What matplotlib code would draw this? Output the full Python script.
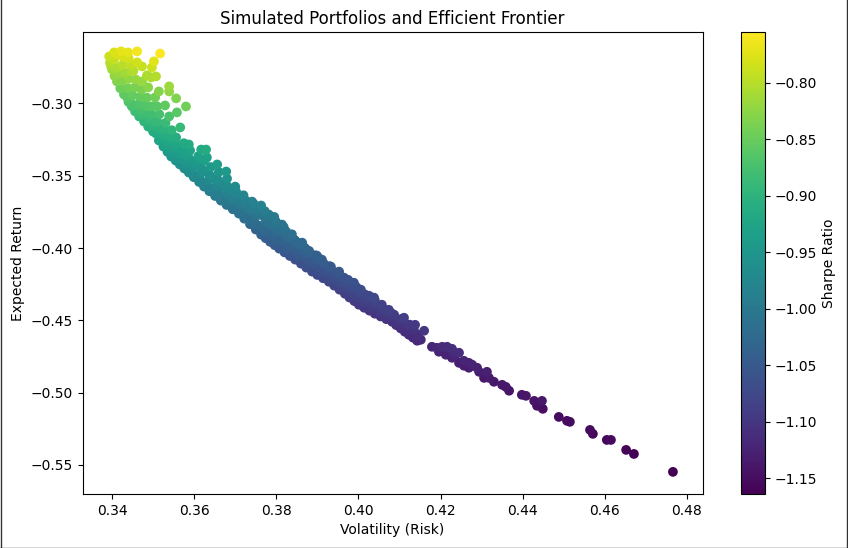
import matplotlib
matplotlib.use("Agg")
import matplotlib.pyplot as plt
from matplotlib.lines import Line2D
import numpy as np

frontier_vol = [.3393,.3395,.3400,.3406,.3412,.3420,.3429,.3440,.3448,.3456,.3466,.3478,.3488,.3500,.3514,.3525,.3535,.3544,.3555,.3565,.3576,.3587,.3599,.3612,.3624,.3637,.3651,.3665,.3679,.3694,.3709,.3722,.3736,.3750,.3763,.3774,.3785,.3796,.3807,.3820,.3833,.3846,.3860,.3873,.3887,.3900,.3914,.3928,.3941,.3954,.3967,.3978,.3990,.4001,.4014,.4027,.4040,.4054,.4068,.4082,.4092,.4103,.4113,.4123,.4133,.4143]
frontier_ret = [-.2675,-.2720,-.2765,-.2810,-.2848,-.2895,-.2938,-.2990,-.3020,-.3055,-.3090,-.3125,-.3160,-.3195,-.3256,-.3298,-.3335,-.3367,-.3395,-.3422,-.3450,-.3478,-.3510,-.3543,-.3575,-.3607,-.3640,-.3672,-.3702,-.3732,-.3762,-.3797,-.3835,-.3872,-.3907,-.3932,-.3957,-.3980,-.4004,-.4030,-.4055,-.4080,-.4108,-.4135,-.4163,-.4186,-.4209,-.4233,-.4260,-.4288,-.4316,-.4342,-.4367,-.4392,-.4413,-.4433,-.4454,-.4473,-.4492,-.4510,-.4533,-.4556,-.4579,-.4600,-.4620,-.4641]

middle_vol = [.3525,.3538,.3551,.3563,.3576,.3588,.3600,.3612,.3624,.3636,.3648,.3662,.3676,.3692,.3709,.3722,.3735,.3747,.3758,.3770,.3782,.3795,.3807,.3819,.3831,.3843,.3855,.3867,.3880,.3892,.3904,.3916,.3928,.3940,.3953,.3965,.3978,.3990,.4002,.4014,.4027,.4039,.4051,.4063,.4075,.4088,.4100,.4112,.4125,.4136,.4148]
middle_ret = [-.3275,-.3310,-.3346,-.3385,-.3420,-.3458,-.3492,-.3522,-.3552,-.3580,-.3609,-.3645,-.3680,-.3715,-.3748,-.3775,-.3800,-.3822,-.3845,-.3870,-.3895,-.3918,-.3942,-.3965,-.3990,-.4014,-.4039,-.4063,-.4088,-.4112,-.4136,-.4160,-.4186,-.4212,-.4240,-.4268,-.4295,-.4322,-.4350,-.4372,-.4395,-.4418,-.4440,-.4462,-.4485,-.4508,-.4530,-.4555,-.4580,-.4605,-.4634]

upper_vol = [.3517,.3461,.3439,.3422,.3405,.3502,.3497,.3473,.3461,.3446,.3507,.3495,.3485,.3473,.3539,.3539,.3514,.3488,.3556,.3505,.3580,.3558,.3529,.3510,.3488,.3539,.3566,.3556,.3534,.3587,.3617,.3629,.3631,.3612,.3656,.3678,.3702,.3741,.3763,.3799,.3814,.3848,.3880,.3911,.3933,.3965,.3989,.4006,.4038,.4057,.4087,.4111,.4138,.4160,.4152,.4145,.3843,.3863,.3824,.3794,.3899,.3953,.4026,.4074]
upper_ret = [-.2655,-.2640,-.2647,-.2640,-.2647,-.2709,-.2751,-.2744,-.2716,-.2730,-.2813,-.2820,-.2806,-.2848,-.2882,-.2917,-.2917,-.2889,-.2965,-.2958,-.3021,-.3062,-.3014,-.3021,-.3021,-.3090,-.3166,-.3235,-.3215,-.3284,-.3319,-.3319,-.3374,-.3388,-.3422,-.3471,-.3609,-.3679,-.3706,-.3817,-.3838,-.3956,-.4032,-.4080,-.4129,-.4205,-.4240,-.4288,-.4343,-.4392,-.4461,-.4482,-.4531,-.4572,-.4634,-.4600,-.3942,-.3963,-.3886,-.3845,-.4053,-.4163,-.4330,-.4427]

inner_vol = [.3405,.3415,.3428,.3440,.3398,.3412,.3425,.3445,.3415,.3432,.3452,.3425,.3440,.3458,.3438,.3455,.3472,.3450,.3468,.3485,.3465,.3480,.3498,.3478,.3495,.3515,.3492,.3510,.3530,.3505,.3525,.3545,.3520,.3540,.3535,.3555,.3575,.3550,.3570,.3590,.3565,.3585,.3610,.3580,.3602,.3625,.3595,.3618,.3640,.3615,.3638,.3660,.3635,.3658,.3680,.3655,.3680,.3700,.3680,.3700,.3720,.3705,.3725,.3745,.3730,.3750,.3772,.3750,.3772,.3795,.3775,.3795,.3818,.3800,.3820,.3838,.3825,.3845,.3862,.3850,.3870,.3875,.3895,.3915,.3900,.3925,.3940,.3948,.3965,.3985,.3975,.3990,.4005,.4022,.4020,.4040,.4055,.4070,.4085,.4100,.4120,.4135,.3690,.3675,.3721,.3734,.3782,.3825,.3860,.3895,.3930,.3960,.4000]
inner_ret = [-.2695,-.2665,-.2680,-.2685,-.2745,-.2755,-.2735,-.2775,-.2795,-.2790,-.2775,-.2845,-.2830,-.2835,-.2895,-.2890,-.2905,-.2945,-.2955,-.2960,-.3005,-.3015,-.3020,-.3060,-.3075,-.3075,-.3115,-.3125,-.3135,-.3160,-.3175,-.3185,-.3210,-.3230,-.3265,-.3280,-.3275,-.3305,-.3320,-.3325,-.3355,-.3365,-.3365,-.3400,-.3410,-.3395,-.3445,-.3450,-.3440,-.3490,-.3495,-.3475,-.3530,-.3530,-.3520,-.3570,-.3570,-.3575,-.3625,-.3625,-.3635,-.3670,-.3670,-.3695,-.3720,-.3735,-.3745,-.3775,-.3790,-.3785,-.3825,-.3840,-.3855,-.3880,-.3895,-.3905,-.3930,-.3945,-.3975,-.3980,-.4000,-.4035,-.4050,-.4105,-.4085,-.4155,-.4165,-.4180,-.4235,-.4265,-.4255,-.4295,-.4315,-.4350,-.4375,-.4385,-.4415,-.4445,-.4475,-.4505,-.4530,-.4565,-.3596,-.3582,-.3699,-.3720,-.3769,-.3965,-.4015,-.4075,-.4150,-.4210,-.4300]

dense_vol = [.3470,.3487,.3500,.3515,.3528,.3545,.3560,.3575,.3592,.3608,.3622,.3645,.3665,.3690,.3712,.3735,.3760,.3785,.3810,.3835,.3855,.3880,.3905,.3930,.3950,.3975,.3995,.4015,.4040,.4060,.4080,.4105,.4125,.3437,.3452,.3472,.3495,.3508,.3520,.3530,.3550,.3570,.3590,.3605,.3630,.3658,.3685,.3715,.3740,.3770,.3800,.3825,.3850,.3880,.3905,.3935,.3960,.3985,.4010,.4035,.4060]
dense_ret = [-.3040,-.3090,-.3130,-.3175,-.3225,-.3255,-.3310,-.3350,-.3395,-.3430,-.3470,-.3520,-.3560,-.3655,-.3700,-.3740,-.3770,-.3830,-.3885,-.3930,-.3965,-.4020,-.4075,-.4125,-.4170,-.4220,-.4270,-.4320,-.4360,-.4420,-.4450,-.4490,-.4530,-.2960,-.3010,-.3075,-.3150,-.3210,-.3245,-.3290,-.3350,-.3410,-.3470,-.3510,-.3560,-.3620,-.3680,-.3745,-.3810,-.3880,-.3950,-.4005,-.4050,-.4115,-.4160,-.4220,-.4275,-.4330,-.4375,-.4415,-.4455]

tail_vol = [.4179,.4191,.4204,.4216,.4228,.4245,.4228,.4235,.4245,.4269,.4257,.4289,.4313,.4306,.4318,.4330,.4350,.4359,.4367,.4398,.4408,.4428,.4447,.4435,.4449,.4488,.4508,.4515,.4564,.4571,.4605,.4615,.4652,.4671,.4766,.4196,.4213,.4232,.4257,.4269,.4277,.4294]
tail_ret = [-.4683,-.4690,-.4683,-.4683,-.4697,-.4724,-.4759,-.4745,-.4794,-.4794,-.4780,-.4828,-.4856,-.4898,-.4898,-.4925,-.4946,-.4960,-.4987,-.5015,-.5022,-.5057,-.5057,-.5091,-.5112,-.5168,-.5195,-.5202,-.5258,-.5285,-.5327,-.5327,-.5396,-.5424,-.5548,-.4717,-.4738,-.4724,-.4814,-.4828,-.4807,-.4856]

x_ticks = [0.34, 0.36, 0.38, 0.40, 0.42, 0.44, 0.46, 0.48]
y_ticks = [-0.30, -0.35, -0.40, -0.45, -0.50, -0.55]
cbar_ticks = [-0.80, -0.85, -0.90, -0.95, -1.00, -1.05, -1.10, -1.15]

vol = np.array(frontier_vol + middle_vol + dense_vol + upper_vol + inner_vol + tail_vol)
ret = np.array(frontier_ret + middle_ret + dense_ret + upper_ret + inner_ret + tail_ret)
sharpe = ret / vol
order = np.argsort(sharpe)

W, H = 848, 548
fig = plt.figure(figsize=(W / 100, H / 100), dpi=100)
ax = fig.add_axes([82.5 / W, 1 - 494 / H, 620 / W, 462 / H])
sc = ax.scatter(vol[order], ret[order], c=sharpe[order], cmap="viridis")
ax.set_xlim(0.3328, 0.4838)
ax.set_ylim(-0.5701, -0.2506)
ax.set_xticks(x_ticks)
ax.set_yticks(y_ticks)
ax.set_title("Simulated Portfolios and Efficient Frontier")
ax.set_xlabel("Volatility (Risk)")
ax.set_ylabel("Expected Return")

cax = fig.add_axes([740.7 / W, 1 - 494 / H, 24 / W, 462 / H])
cb = fig.colorbar(sc, cax=cax, label="Sharpe Ratio")
cb.set_ticks(cbar_ticks)

for xs, ys in [((0.0006, 0.0006), (0, 1)), ((0.9994, 0.9994), (0, 1)), ((0, 1), (0.0009, 0.0009))]:
    fig.add_artist(Line2D(xs, ys, transform=fig.transFigure, color="#333333", lw=1.0))

fig.savefig("out.png", dpi=100)
